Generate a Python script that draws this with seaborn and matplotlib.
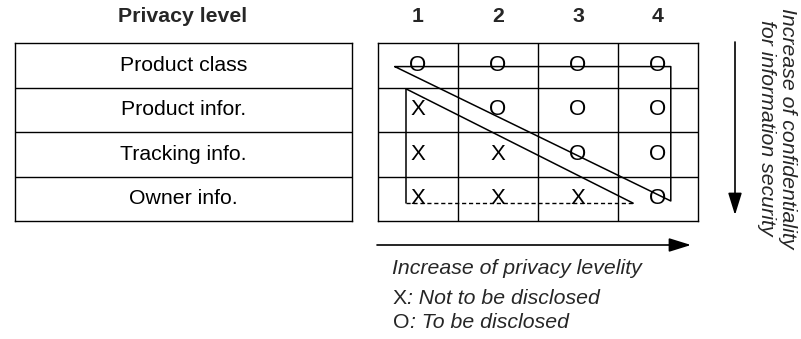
import numpy as np
import matplotlib.pyplot as plt
import seaborn as sns
from matplotlib.colors import ListedColormap

# data of the diagram
levels = ['1', '2', '3', '4']
items = ['Product class', 'Product infor.', 'Tracking info.', 'Owner info.']
marks = [['O', 'O', 'O', 'O'],
         ['X', 'O', 'O', 'O'],
         ['X', 'X', 'O', 'O'],
         ['X', 'X', 'X', 'O']]
legend_keys = ['X', 'O']
legend_text = [': Not to be disclosed', ': To be disclosed']
# triangles in cell units (x = level column, y = item row)
upper_x = [0.21, 3.66, 3.66, 0.21]
upper_y = [0.53, 0.53, 3.55, 0.53]
lower_x = [0.35, 0.35, 3.19]
lower_y = [1.03, 3.60, 3.60]

sns.set_theme(style='white')
plt.rcParams['font.family'] = ['Liberation Sans', 'DejaVu Sans']

W, H = 801, 339
fig = plt.figure(figsize=(W / 100, H / 100), dpi=100)

# full-figure layer in pixel units for arrows and free text
bg = fig.add_axes([0, 0, 1, 1])
bg.set_xlim(0, W)
bg.set_ylim(H, 0)
bg.axis('off')

def px_axes(x0, y0, x1, y1):
    return fig.add_axes([x0 / W, 1 - y1 / H, (x1 - x0) / W, (y1 - y0) / H])

white = ListedColormap(['white'])
fs = 15.3
lw = 1.0

def boxed(ax, nrows, ncols):
    ax.set_xticks([])
    ax.set_yticks([])
    ax.hlines(range(1, nrows), 0, ncols, color='black', lw=lw)
    ax.vlines(range(1, ncols), 0, nrows, color='black', lw=lw)
    for s in ax.spines.values():
        s.set_visible(True)
        s.set_color('black')
        s.set_linewidth(lw)

# left table with item names
ax_l = px_axes(15, 43, 352, 221)
sns.heatmap(np.zeros((len(items), 1)), ax=ax_l, cmap=white, cbar=False,
            annot=np.array(items).reshape(-1, 1), fmt='',
            annot_kws={'size': fs, 'color': 'black'}, linewidths=0)
boxed(ax_l, len(items), 1)

# grid of marks
ax_g = px_axes(378, 43, 698, 221)
sns.heatmap(np.zeros((len(items), len(levels))), ax=ax_g, cmap=white, cbar=False,
            annot=np.array(marks), fmt='',
            annot_kws={'size': 16, 'color': 'black'}, linewidths=0)
boxed(ax_g, len(items), len(levels))

ax_g.plot(upper_x, upper_y, color='black', lw=1.1)
ax_g.plot(lower_x[:2], lower_y[:2], color='black', lw=1.1)
ax_g.plot(lower_x[1:], lower_y[1:], color='black', lw=1.0, ls=(0, (3, 2)))
ax_g.plot([lower_x[0], lower_x[2]], [lower_y[0], lower_y[2]], color='black', lw=1.1)

# headers
bg.text(183, 17, 'Privacy level', ha='center', va='center', fontsize=fs, fontweight='bold')
for i, lv in enumerate(levels):
    bg.text(378 + 80 * (i + 0.5), 17, lv, ha='center', va='center',
            fontsize=fs, fontweight='bold')

# arrows
arrow = dict(arrowstyle='-|>,head_length=0.9,head_width=0.28', color='black',
             lw=1.2, mutation_scale=15, shrinkA=0, shrinkB=0)
bg.annotate('', xy=(691, 245), xytext=(377, 245), arrowprops=arrow)
bg.annotate('', xy=(735, 215), xytext=(735, 42), arrowprops=arrow)

bg.text(392, 268, 'Increase of privacy levelity', ha='left', va='center',
        fontsize=fs, style='italic')
for k, (key, txt) in enumerate(zip(legend_keys, legend_text)):
    t = bg.text(393, 299 + 24 * k, key, ha='left', va='center', fontsize=fs)
    bg.annotate(txt, xy=(1, 0.5), xycoords=t, ha='left', va='center',
                fontsize=fs, style='italic')

bg.text(777, 128, 'Increase of confidentiality\nfor information security',
        rotation=-90, ha='center', va='center', multialignment='center',
        fontsize=fs, style='italic', linespacing=1.15)

fig.savefig('out.png', dpi=100)
